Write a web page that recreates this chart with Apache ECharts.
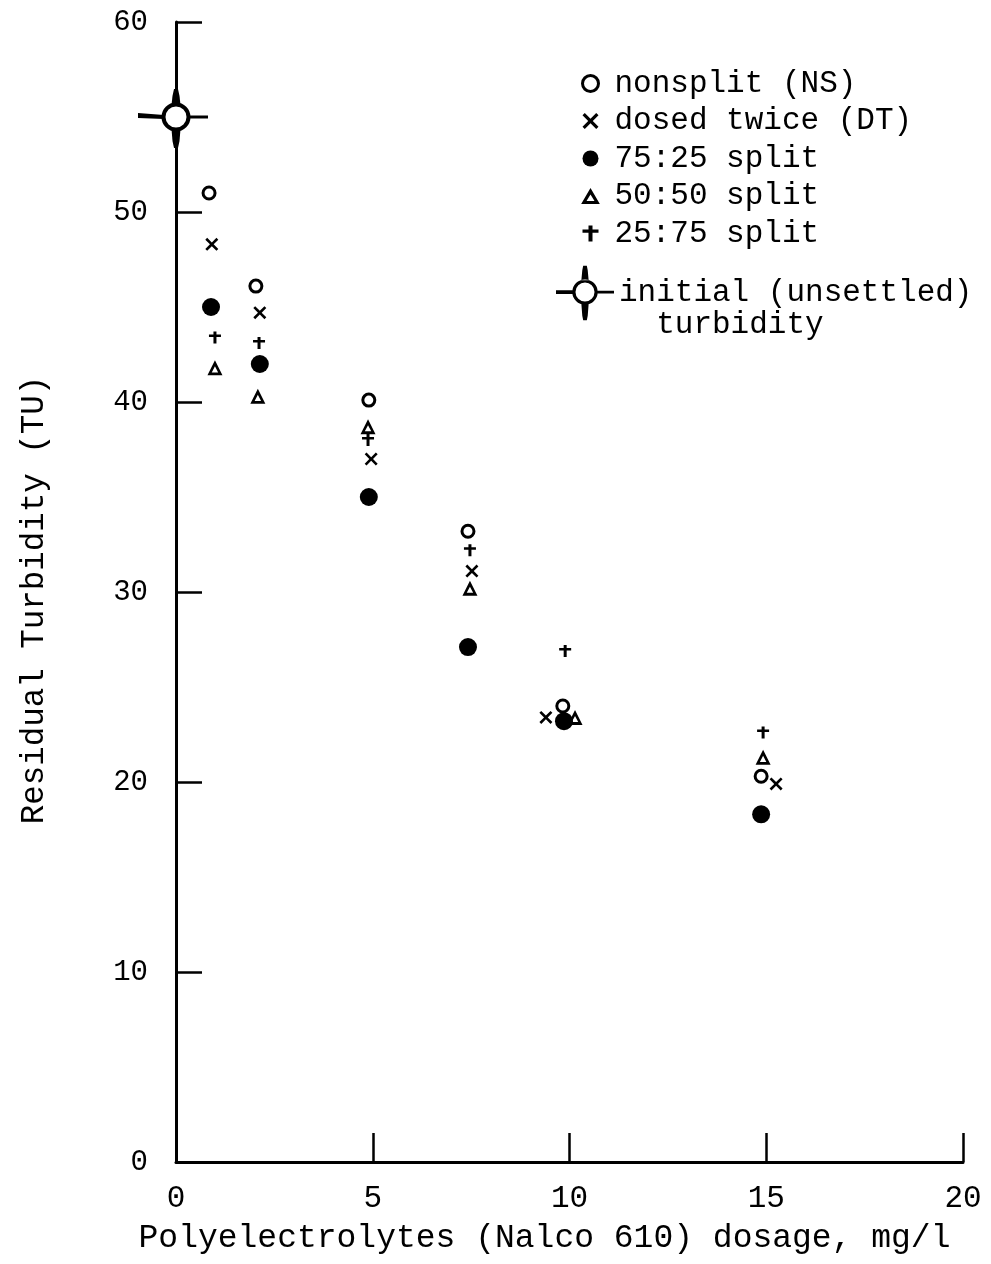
<!DOCTYPE html>
<html>
<head>
<meta charset="utf-8">
<title>Residual turbidity vs polyelectrolyte dosage</title>
<script src="https://cdn.jsdelivr.net/npm/echarts@6/dist/echarts.min.js"></script>
<style>
  html, body { margin: 0; padding: 0; background: #fff; }
  #chart { width: 991px; height: 1264px; }
</style>
</head>
<body>
<div id="chart"></div>
<script>
// Residual turbidity (TU) against polyelectrolyte dosage (mg/l), per dosing scheme
const nonsplit   = [[0.84, 51.0], [2.03, 46.1], [4.90, 40.1], [7.42, 33.2], [9.83, 24.0], [14.87, 20.3]];
const dosedTwice = [[0.91, 48.3], [2.13, 44.7], [4.96, 37.0], [7.52, 31.1], [9.40, 23.4], [15.25, 19.9]];
const split7525  = [[0.89, 45.0], [2.13, 42.0], [4.90, 35.0], [7.42, 27.1], [9.86, 23.2], [14.87, 18.3]];
const split5050  = [[0.99, 41.8], [2.08, 40.3], [4.88, 38.7], [7.47, 30.2], [10.14, 23.4], [14.92, 21.3]];
const split2575  = [[0.99, 43.4], [2.11, 43.1], [4.88, 38.0], [7.47, 32.2], [9.89, 26.9], [14.92, 22.6]];
const initialTurbidity = [[0, 55.0]];

const seriesNames = ['nonsplit (NS)', 'dosed twice (DT)', '75:25 split', '50:50 split', '25:75 split'];
const initialName = 'initial (unsettled)';
const initialLabel = ' \ninitial (unsettled)\n  turbidity';

const xTicks = { min: 0, max: 20, interval: 5 };
const yTicks = { min: 0, max: 60, interval: 10 };

const FONT = '"Liberation Mono", "DejaVu Sans Mono", monospace';
const INK = '#000';

const crossPath = 'path://M0,2L2,0L7,5L12,0L14,2L9,7L14,12L12,14L7,9L2,14L0,12L5,7Z';
const plusPath = 'path://M4.5,0H7.5V3H12V5.5H7.5V12H4.5V5.5H0V3H4.5Z';
// open triangle: outer outline with the inner outline wound the other way
const openTriangle = 'path://M7,0L14,12L0,12Z M7,4.8L4,9.7L10,9.7Z';
// ring with four arms, used as the legend icon of the initial value
const initialIcon = 'path://M18,32A14,14 0 1,1 46,32A14,14 0 1,1 18,32Z' +
  'M21.5,32A10.5,10.5 0 1,0 42.5,32A10.5,10.5 0 1,0 21.5,32Z' +
  'M0,30H19V34H0Z M45,30.5H64V33.5H45Z' +
  'M28,19L36,19L35,8L34,3L30,3L29,8Z M28,45L36,45L35,58L34,63L30,63L29,58Z';

const hollow = { color: '#fff', borderColor: INK, borderWidth: 3, opacity: 1 };
const solid = { color: INK, borderWidth: 0, opacity: 1 };

const chart = echarts.init(document.getElementById('chart'), null, { renderer: 'canvas' });

// marker for the initial (unsettled) turbidity: open circle with cross arms
function renderInitial(params, api) {
  const p = api.coord([api.value(0), api.value(1)]);
  const cx = p[0], cy = p[1];
  const black = { fill: INK };
  return {
    type: 'group',
    children: [
      { type: 'polygon', shape: { points: [[cx - 38, cy - 4], [cx - 12, cy - 2], [cx - 12, cy + 2], [cx - 38, cy + 1]] }, style: black },
      { type: 'rect', shape: { x: cx + 12, y: cy - 1.5, width: 20, height: 3 }, style: black },
      { type: 'polygon', shape: { points: [[cx - 4.5, cy - 12], [cx + 4.5, cy - 12], [cx + 3.5, cy - 21], [cx + 2, cy - 28], [cx - 2, cy - 28], [cx - 3.5, cy - 21]] }, style: black },
      { type: 'polygon', shape: { points: [[cx - 4.5, cy + 12], [cx + 4.5, cy + 12], [cx + 3.5, cy + 24], [cx + 2, cy + 31], [cx - 2, cy + 31], [cx - 3.5, cy + 24]] }, style: black },
      { type: 'circle', shape: { cx: cx, cy: cy, r: 12.5 }, style: { fill: '#fff', stroke: INK, lineWidth: 4 } }
    ]
  };
}

const option = {
  backgroundColor: '#fff',
  animation: false,
  textStyle: { fontFamily: FONT, color: INK },
  grid: { left: 176, right: 28, top: 22, bottom: 102, containLabel: false },
  legend: [
    {
      orient: 'vertical',
      left: 576,
      top: 63,
      itemWidth: 38,
      itemHeight: 16,
      itemGap: 6.5,
      selectedMode: false,
      textStyle: { fontFamily: FONT, fontSize: 31, color: INK, lineHeight: 30 },
      data: [
        { name: seriesNames[0], icon: 'circle', itemStyle: hollow },
        { name: seriesNames[1], icon: crossPath, itemStyle: solid },
        { name: seriesNames[2], icon: 'circle', itemStyle: solid },
        { name: seriesNames[3], icon: openTriangle, itemStyle: solid },
        { name: seriesNames[4], icon: plusPath, itemStyle: solid }
      ]
    },
    {
      orient: 'vertical',
      left: 551,
      top: 240,
      itemWidth: 58,
      itemHeight: 58,
      selectedMode: false,
      formatter: function () { return initialLabel; },
      textStyle: { fontFamily: FONT, fontSize: 31, color: INK, lineHeight: 32 },
      data: [{ name: initialName, icon: initialIcon, itemStyle: solid }]
    }
  ],
  xAxis: {
    type: 'value',
    min: xTicks.min, max: xTicks.max, interval: xTicks.interval,
    name: 'Polyelectrolytes (Nalco 610) dosage, mg/l',
    nameLocation: 'middle',
    nameGap: 60,
    nameTextStyle: { fontFamily: FONT, fontSize: 33, color: INK, padding: [0, 50, 0, 0] },
    axisLine: { onZero: false, lineStyle: { color: INK, width: 3 } },
    axisTick: { inside: true, length: 29, lineStyle: { color: INK, width: 2.5 } },
    axisLabel: { fontFamily: FONT, fontSize: 31, color: INK, margin: 21 },
    splitLine: { show: false }
  },
  yAxis: {
    type: 'value',
    min: yTicks.min, max: yTicks.max, interval: yTicks.interval,
    name: 'Residual Turbidity (TU)',
    nameLocation: 'middle',
    nameGap: 125,
    nameTextStyle: { fontFamily: FONT, fontSize: 32.5, color: INK, padding: [0, 16, 0, 0] },
    axisLine: { onZero: false, lineStyle: { color: INK, width: 3 } },
    axisTick: { inside: true, length: 26, lineStyle: { color: INK, width: 2.5 } },
    axisLabel: { fontFamily: FONT, fontSize: 29, color: INK, margin: 28 },
    splitLine: { show: false }
  },
  series: [
    { name: seriesNames[0], type: 'scatter', data: nonsplit, symbol: 'circle', symbolSize: 12, itemStyle: hollow },
    { name: seriesNames[1], type: 'scatter', data: dosedTwice, symbol: crossPath, symbolSize: 13, itemStyle: solid },
    { name: seriesNames[2], type: 'scatter', data: split7525, symbol: 'circle', symbolSize: 18, itemStyle: solid },
    { name: seriesNames[3], type: 'scatter', data: split5050, symbol: openTriangle, symbolSize: 15, itemStyle: solid },
    { name: seriesNames[4], type: 'scatter', data: split2575, symbol: plusPath, symbolSize: 12, itemStyle: solid },
    { name: initialName, type: 'custom', data: initialTurbidity, renderItem: renderInitial, z: 5 }
  ]
};

chart.setOption(option);
</script>
</body>
</html>
